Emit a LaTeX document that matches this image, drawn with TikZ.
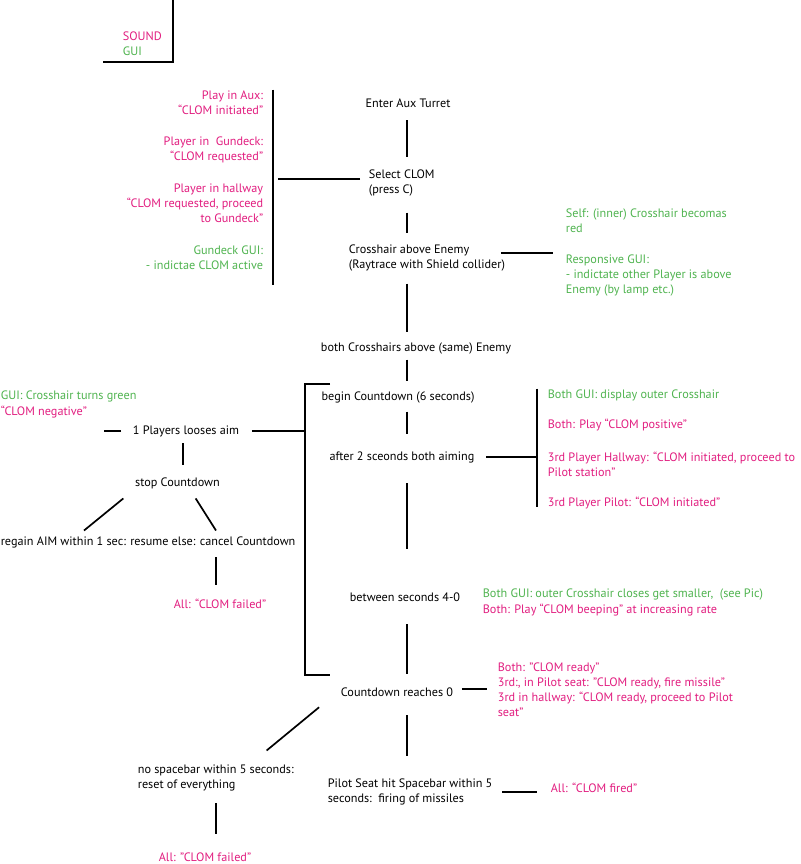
\documentclass[tikz,border=0pt]{standalone}
\usepackage{fontspec}
\setmainfont{PT Sans}
\usepackage{tikz}
\definecolor{sndpink}{RGB}{226,30,128}
\definecolor{guigreen}{RGB}{80,180,80}

\begin{document}
\begin{tikzpicture}[x=1pt,y=-1pt,line width=1.7pt,
	txt/.style={inner sep=0pt,font=\fontsize{12.2}{15}\selectfont},
	act/.style={txt,text=black},
	snd/.style={txt,text=sndpink},
	gui/.style={txt,text=guigreen}]
	\fill[white] (0,0) rectangle (800,864);
	\useasboundingbox (0,0) rectangle (800,864);

	\node[snd,anchor=west] (sndkey) at (122,36) {SOUND};
	\node[gui,anchor=west] (guikey) at (122,51) {GUI};
	\coordinate (keytop) at (173,0);
	\coordinate (keyend) at (103,62);
	\draw (keytop) |- (keyend);

	\node[snd,anchor=east,align=right] (aux) at (264,102.5) {Play in Aux:\\“CLOM initiated”};
	\node[snd,anchor=east,align=right] (gundeck) at (264,149.5) {Player in\ \ Gundeck:\\“CLOM requested”};
	\node[snd,anchor=east,align=right] (hallway) at (264,203) {Player in hallway\\“CLOM requested, proceed\\to Gundeck”};
	\node[gui,anchor=east,align=right] (gdgui) at (264,257.5) {Gundeck GUI:\\- indictae CLOM active};

	\coordinate (spine) at (407,0);
	\node[act] (enter) at (408,103) {Enter Aux Turret};
	\node[act,anchor=west,align=left] (select) at (368,182.5) {Select CLOM\\(press C)};
	\node[act,anchor=west,align=left] (cross) at (348,257.5) {Crosshair above Enemy\\(Raytrace with Shield collider)};
	\node[act] (both) at (416,348) {both Crosshairs above (same) Enemy};
	\node[act] (begin) at (398,397) {begin Countdown (6 seconds)};
	\node[act] (after) at (402,457) {after 2 sceonds both aiming};
	\node[act] (between) at (405,597) {between seconds 4-0};
	\node[act] (reach) at (397,692) {Countdown reaches 0};
	\node[act,anchor=west,align=left] (fire) at (327,792) {Pilot Seat hit Spacebar within 5\\seconds:\ \ firing of missiles};

	\node[gui,anchor=west,align=left] (self) at (565,220.5) {Self: (inner) Crosshair becomas\\red};
	\node[gui,anchor=west,align=left] (resp) at (565,275) {Responsive GUI:\\- indictate other Player is above\\Enemy (by lamp etc.)};
	\node[gui,anchor=west] (outer) at (547,395) {Both GUI: display outer Crosshair};
	\node[snd,anchor=west] (positive) at (547,425) {Both: Play “CLOM positive”};
	\node[snd,anchor=west,align=left] (hall) at (547,464.5) {3rd Player Hallway: “CLOM initiated, proceed to\\Pilot station”};
	\node[snd,anchor=west] (pilot) at (547,503) {3rd Player Pilot: “CLOM initiated”};
	\node[gui,anchor=west] (shrink) at (482,594) {Both GUI: outer Crosshair closes get smaller,\ \ (see Pic)};
	\node[snd,anchor=west] (beep) at (482,610) {Both: Play “CLOM beeping” at increasing rate};
	\node[snd,anchor=west,align=left] (ready) at (497,689.5) {Both: "CLOM ready"\\3rd:, in Pilot seat: "CLOM ready, fire missile"\\3rd in hallway: “CLOM ready, proceed to Pilot\\seat"};
	\node[snd,anchor=west] (fired) at (550,788) {All: “CLOM fired”};

	\node[gui,anchor=west] (green) at (0,396) {GUI: Crosshair turns green};
	\node[snd,anchor=west] (negative) at (0,412) {“CLOM negative”};
	\node[act] (loose) at (186,431) {1 Players looses aim};
	\node[act] (stop) at (177.5,483) {stop Countdown};
	\node[act,anchor=west] (regain) at (0,542) {regain AIM within 1 sec: resume else: cancel Countdown};
	\node[snd] (failc) at (220,604) {All: “CLOM failed”};
	\node[act,anchor=west,align=left] (nospace) at (137,777.5) {no spacebar within 5 seconds:\\reset of everything};
	\node[snd] (failb) at (205,857) {All: "CLOM failed"};

	\path (enter.south -| spine) edge[shorten <=12pt,shorten >=11pt] (select.north -| spine)
		(select.south -| spine) edge[shorten <=16pt,shorten >=10pt] (cross.north -| spine)
		(cross.south -| spine) edge[shorten <=12pt,shorten >=9pt] (both.north -| spine)
		(both.south -| spine) edge[shorten <=5pt,shorten >=9pt] (begin.north -| spine)
		(begin.south -| spine) edge[shorten <=8pt,shorten >=17pt] (after.north -| spine)
		(after.south -| spine) edge[shorten <=20pt,shorten >=43pt] (between.north -| spine)
		(between.south -| spine) edge[shorten <=22pt,shorten >=13pt] (reach.north -| spine)
		(reach.south -| spine) edge[shorten <=18pt,shorten >=22pt] (fire.north -| spine);

	\coordinate (atop) at ([xshift=9pt]aux.north east);
	\coordinate (abot) at ([xshift=9pt,yshift=-14.5pt]gdgui.south east);
	\coordinate (selin) at ([yshift=3.5pt]select.west);
	\draw (atop) -- (abot);
	\draw[shorten <=8pt,shorten >=5pt] (selin) -- (selin -| atop);

	\coordinate (crossout) at ([yshift=4.5pt]cross.east);
	\draw[shorten <=-5pt,shorten >=12pt] (crossout) -- (crossout -| resp.west);

	\coordinate (ntop) at ([xshift=-10pt]outer.north west);
	\coordinate (nbot) at ([xshift=-10pt,yshift=3pt]pilot.south west);
	\draw (ntop) -- (nbot);
	\draw[shorten <=11pt] (after.east) -- (after.east -| ntop);

	\coordinate (cdtop) at (305,384);
	\coordinate (cdbot) at (305,675);
	\draw ([xshift=25pt]cdtop) -- (cdtop) -- (cdbot) -- ([xshift=25pt]cdbot);
	\draw[shorten <=12pt] (loose.east) -- (loose.east -| cdtop);
	\coordinate (lostend) at (104,432);
	\draw[shorten <=11pt] (loose.west) -- (loose.west -| lostend);

	\draw[shorten <=6pt,shorten >=12pt] ([xshift=-3pt]loose.south) -- ([xshift=-3pt]loose.south |- stop.north);
	\draw ([shift={(-11,9)}]stop.south west) -- ([shift={(84,-5)}]regain.north west);
	\draw ([shift={(-25,9)}]stop.south east) -- ([shift={(216,-5)}]regain.north west);
	\draw[shorten <=9pt,shorten >=13pt] ([xshift=-4pt]failc.north |- regain.south) -- ([xshift=-4pt]failc.north);

	\coordinate (readyin) at ([yshift=3pt]reach.east);
	\draw[shorten <=8pt,shorten >=10pt] (readyin) -- (readyin -| ready.west);
	\draw ([shift={(-21,10)}]reach.south west) -- ([shift={(-28,-13)}]nospace.north east);
	\draw[shorten <=12pt,shorten >=18pt] (nospace.south) -- (nospace.south |- failb.north);
	\draw[shorten <=9pt,shorten >=13pt] (fire.east) -- (fire.east -| fired.west);
\end{tikzpicture}
\end{document}
